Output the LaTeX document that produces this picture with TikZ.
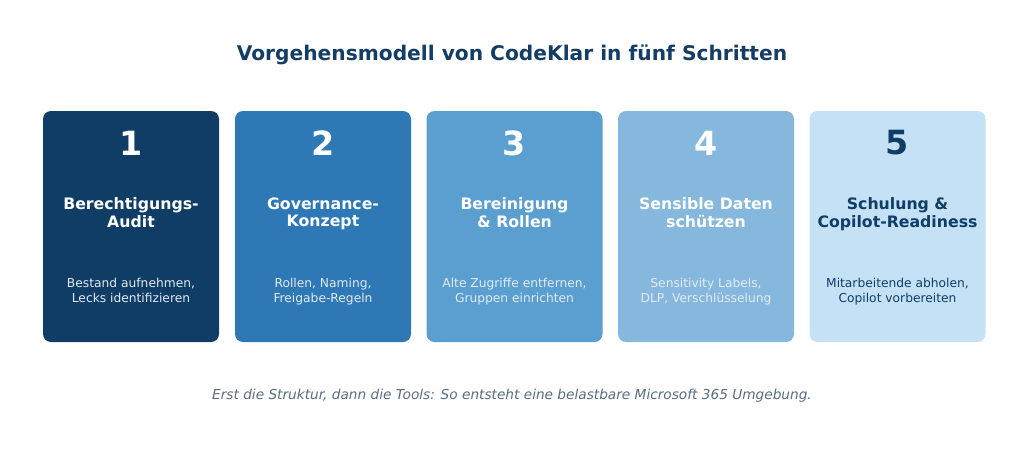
\documentclass[tikz,border=0pt]{standalone}
\usepackage{fontspec}
\setmainfont{DejaVu Sans}
\definecolor{c1}{HTML}{0F3D66}
\definecolor{c2}{HTML}{2E78B5}
\definecolor{c3}{HTML}{5B9FD1}
\definecolor{c4}{HTML}{86B8DE}
\definecolor{c5}{HTML}{C5E1F5}
\definecolor{head}{HTML}{143D66}
\definecolor{foot}{HTML}{5A6B7E}
\definecolor{lightdesc}{HTML}{E3EAF2}
\begin{document}
\begin{tikzpicture}[x=0.75pt,y=-0.75pt,
  card/.style={draw=none,rounded corners=6pt,minimum width=132pt,minimum height=173.25pt,inner sep=0pt},
  num/.style={font=\bfseries\fontsize{25}{30}\selectfont},
  ttl/.style={font=\bfseries\fontsize{11.8}{12.75}\selectfont,align=center},
  dsc/.style={font=\fontsize{9.2}{11.25}\selectfont,align=center}]
\useasboundingbox (0,0) rectangle (1024,453);
\node[font=\bfseries\fontsize{15.15}{18}\selectfont,text=head] (title) at (512,54.5) {Vorgehensmodell von CodeKlar in fünf Schritten};
\foreach \i/\x/\col/\tc/\dc/\t/\d in {
 1/131/c1/white/lightdesc/{\strut Berechtigungs-\\\strut Audit}/{\strut Bestand aufnehmen,\\\strut Lecks identifizieren},
 2/323/c2/white/lightdesc/{\strut Governance-\\\strut Konzept}/{\strut Rollen, Naming,\\\strut Freigabe-Regeln},
 3/514.5/c3/white/lightdesc/{\strut Bereinigung\\\strut\& Rollen}/{\strut Alte Zugriffe entfernen,\\\strut Gruppen einrichten},
 4/706/c4/white/lightdesc/{\strut Sensible Daten\\\strut schützen}/{\strut Sensitivity Labels,\\\strut DLP, Verschlüsselung},
 5/897.5/c5/c1/c1/{\strut Schulung \&\\\strut Copilot-Readiness}/{\strut Mitarbeitende abholen,\\\strut Copilot vorbereiten}}{
  \node[card,fill=\col] (card\i) at (\x,226.5) {};
  \node[num,text=\tc] (num\i) at (\x,143) {\i};
  \node[ttl,text=\tc] (ttl\i) at (\x,215) {\t};
  \node[dsc,text=\dc] (dsc\i) at (\x,292) {\d};
}
\node[font=\itshape\fontsize{10.26}{12}\selectfont,text=foot] (foot) at (512,395.5) {Erst die Struktur, dann die Tools: So entsteht eine belastbare Microsoft 365 Umgebung.};
\end{tikzpicture}
\end{document}
